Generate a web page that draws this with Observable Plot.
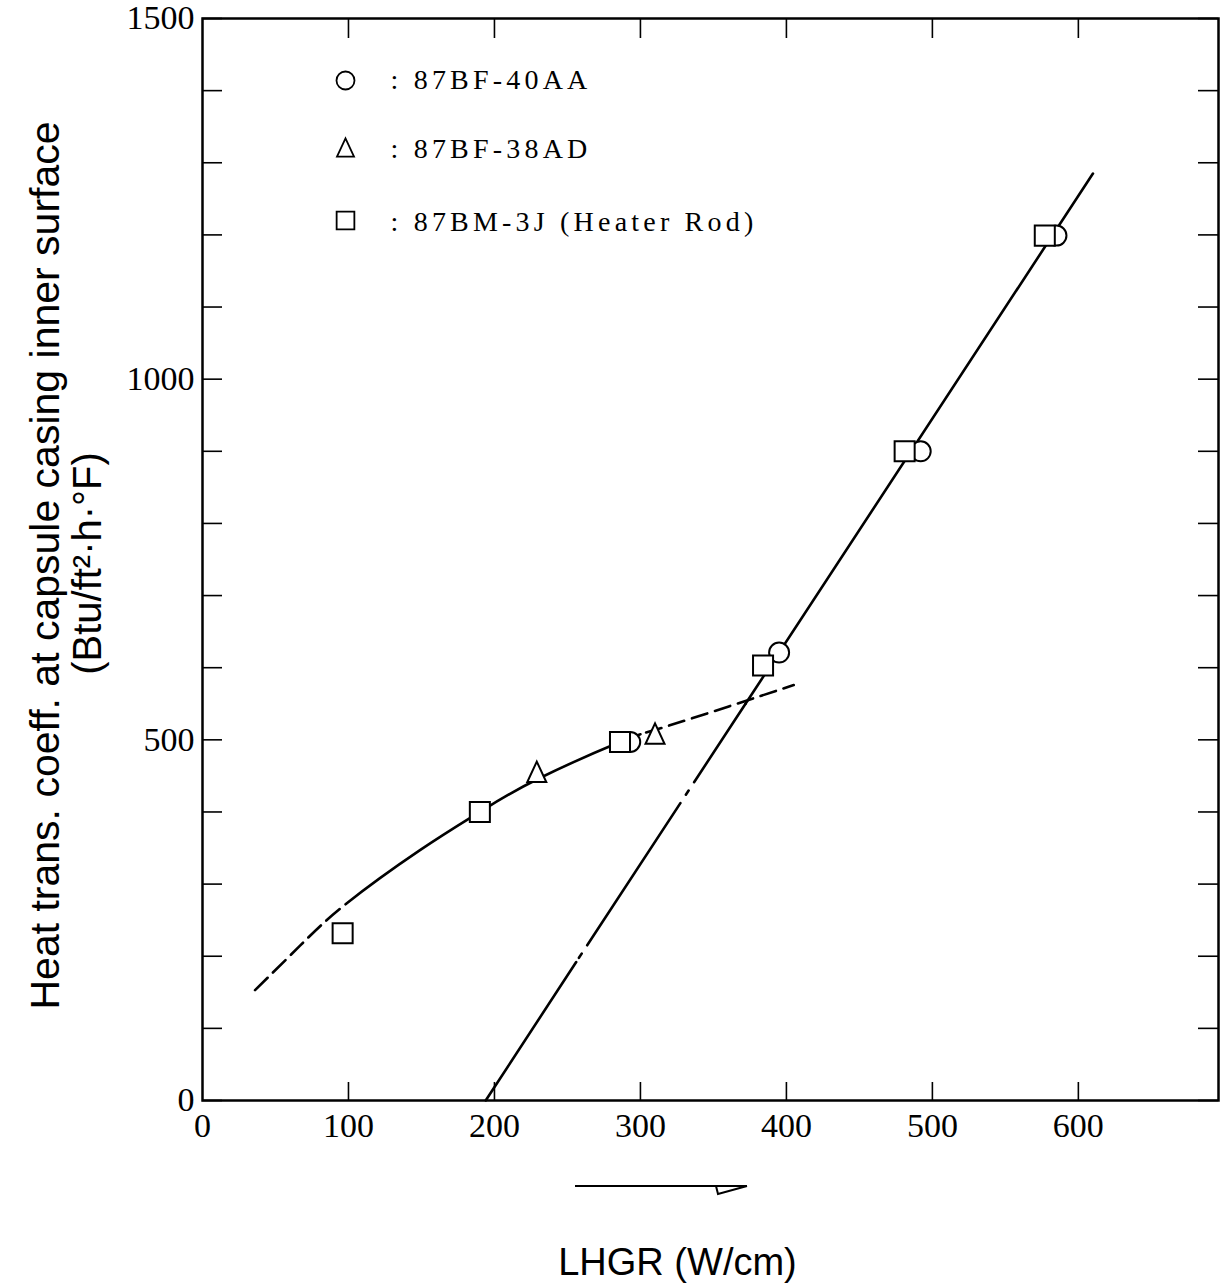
<!DOCTYPE html>
<html><head><meta charset="utf-8">
<script src="https://cdn.jsdelivr.net/npm/d3@7"></script>
<script src="https://cdn.jsdelivr.net/npm/@observablehq/plot@0.6"></script>
<style>
body{margin:0;background:#fff}
#chart{position:relative;width:1221px;height:1284px}
</style>
</head><body><div id="chart"></div>
<script>
// ---- data ----
const circleX = [293, 395, 492, 585];
const circleY = [497, 621, 900, 1199];
const squareX = [96, 190, 286, 384, 481, 577];
const squareY = [232, 400, 497, 603, 900, 1199];
const triangleX = [229, 310];
const triangleY = [454, 507];

// low-LHGR fit curve (dashed at both ends, solid in the measured range)
const lowCurveX = [36, 67, 98, 149, 190, 229, 286, 312, 360, 405];
const lowCurveY = [153, 215, 272, 347, 400, 445, 497, 515, 546, 576];
const lowSolidFrom = 98, lowSolidTo = 300;

// straight fit line (solid, dash-dot, solid)
const lineAX = [194, 256];
const lineAY = [0, 192];
const lineBX = [256, 372];
const lineBY = [192, 550];
const lineCX = [372, 610];
const lineCY = [550, 1285];

const xTicks = [0, 100, 200, 300, 400, 500, 600];
const xInnerTicks = [100, 200, 300, 400, 500, 600];
const yMinorTicks = [0, 100, 200, 300, 400, 500, 600, 700, 800, 900, 1000, 1100, 1200, 1300, 1400, 1500];
const yLabels = [0, 500, 1000, 1500];

const legendNames = [": 87BF-40AA", ": 87BF-38AD", ": 87BM-3J (Heater Rod)"];
const xTitle = "LHGR (W/cm)";
const yTitle1 = "Heat trans. coeff. at capsule casing inner surface";
const yTitle2 = "(Btu/ft²·h·°F)";

// ---- build tables ----
const pts = (xs, ys) => xs.map((x, i) => ({x, y: ys[i]}));
const circles = pts(circleX, circleY);
const squares = pts(squareX, squareY);
const triangles = pts(triangleX, triangleY);

const tallTriangle = {
  draw(ctx, size) {
    const r = Math.sqrt(size / Math.PI);
    ctx.moveTo(0, -1.2 * r);
    ctx.lineTo(r, 0.95 * r);
    ctx.lineTo(-r, 0.95 * r);
    ctx.closePath();
  }
};

const W = 1221, H = 1284, mL = 202, mR = 3, mT = 18, mB = 184;
const frameW = W - mL - mR, frameH = H - mT - mB;
const sans = "'Liberation Sans', Arial, Helvetica, sans-serif";
const serif = "'Liberation Serif', 'Times New Roman', serif";

const plot = Plot.plot({
  width: W, height: H,
  marginLeft: mL, marginRight: mR, marginTop: mT, marginBottom: mB,
  x: {domain: [0, 696], axis: null},
  y: {domain: [0, 1500], axis: null},
  style: {fontFamily: serif, background: "#fff", color: "#000", overflow: "visible"},
  marks: [
    // ticks (inward)
    Plot.ruleY(yMinorTicks, {insetRight: frameW - 20, stroke: "#000", strokeWidth: 1.6}),
    Plot.ruleY(yMinorTicks, {insetLeft: frameW - 20, stroke: "#000", strokeWidth: 1.6}),
    Plot.ruleX(xInnerTicks, {insetTop: frameH - 18, stroke: "#000", strokeWidth: 1.6}),
    Plot.ruleX(xInnerTicks, {insetBottom: frameH - 20, stroke: "#000", strokeWidth: 1.6}),
    Plot.frame({stroke: "#000", strokeWidth: 2.5}),

    // tick labels
    Plot.text(yLabels, {y: d => d, text: d => String(d), frameAnchor: "left", textAnchor: "end", lineAnchor: "middle", dx: -8, fontSize: 34, fill: "#000"}),
    Plot.text(xTicks, {x: d => d, text: d => String(d), frameAnchor: "bottom", textAnchor: "middle", lineAnchor: "middle", dy: 26, fontSize: 34, fill: "#000"}),

    // fit curves
    Plot.line(pts(lowCurveX, lowCurveY), {x: "x", y: "y", curve: "natural", stroke: "#000", strokeWidth: 2.6, className: "lowcurve"}),
    Plot.line(pts(lineAX, lineAY), {x: "x", y: "y", stroke: "#000", strokeWidth: 2.6}),
    Plot.line(pts(lineBX, lineBY), {x: "x", y: "y", stroke: "#000", strokeWidth: 2.6, strokeDasharray: "170,10,5,10", strokeDashoffset: 175}),
    Plot.line(pts(lineCX, lineCY), {x: "x", y: "y", stroke: "#000", strokeWidth: 2.6}),

    // data points
    Plot.dot(circles, {x: "x", y: "y", r: 10, symbol: "circle", stroke: "#000", fill: "#fff", strokeWidth: 2}),
    Plot.dot(squares, {x: "x", y: "y", r: 11.3, symbol: "square", stroke: "#000", fill: "#fff", strokeWidth: 2}),
    Plot.dot(triangles, {x: "x", y: "y", r: 9.5, symbol: tallTriangle, stroke: "#000", fill: "#fff", strokeWidth: 2}),

    // legend
    Plot.dot([0], {frameAnchor: "top-left", dx: 143, dy: 62, r: 9, symbol: "circle", stroke: "#000", fill: "#fff", strokeWidth: 1.8}),
    Plot.dot([0], {frameAnchor: "top-left", dx: 143, dy: 130, r: 8.5, symbol: tallTriangle, stroke: "#000", fill: "#fff", strokeWidth: 1.8}),
    Plot.dot([0], {frameAnchor: "top-left", dx: 143, dy: 202, r: 10, symbol: "square", stroke: "#000", fill: "#fff", strokeWidth: 1.8}),
    Plot.text([legendNames[0]], {frameAnchor: "top-left", dx: 188, dy: 62, textAnchor: "start", lineAnchor: "middle", fontSize: 28, fill: "#000"}),
    Plot.text([legendNames[1]], {frameAnchor: "top-left", dx: 188, dy: 131, textAnchor: "start", lineAnchor: "middle", fontSize: 28, fill: "#000"}),
    Plot.text([legendNames[2]], {frameAnchor: "top-left", dx: 188, dy: 204, textAnchor: "start", lineAnchor: "middle", fontSize: 28, fill: "#000"}),

    // axis titles
    Plot.text([xTitle], {frameAnchor: "bottom", textAnchor: "middle", lineAnchor: "middle", dx: -33, dy: 162, fontSize: 38, fontFamily: sans, fill: "#000"}),
    Plot.text([yTitle1], {frameAnchor: "left", textAnchor: "middle", lineAnchor: "middle", dx: -157, dy: 6, rotate: -90, fontSize: 41, fontFamily: sans, fill: "#000"}),
    Plot.text([yTitle2], {frameAnchor: "left", textAnchor: "middle", lineAnchor: "middle", dx: -114, dy: 4, rotate: -90, fontSize: 40, fontFamily: sans, fill: "#000"})
  ]
});

document.getElementById("chart").appendChild(plot);

const svg = d3.select(plot);

// letter spacing for legend labels
svg.selectAll("text").filter(function () {
  return this.textContent.startsWith(":");
}).style("letter-spacing", "4.2px");

// dashed ends / solid middle on the low curve (one smooth path)
(function () {
  const path = svg.select(".lowcurve path").node();
  if (!path) return;
  const xs = d3.scaleLinear().domain([0, 696]).range([mL, W - mR]);
  const L = path.getTotalLength();
  const lenAt = px => {
    let lo = 0, hi = L;
    for (let i = 0; i < 40; i++) {
      const mid = (lo + hi) / 2;
      if (path.getPointAtLength(mid).x < px) lo = mid; else hi = mid;
    }
    return lo;
  };
  const l1 = lenAt(xs(lowSolidFrom)), l2 = lenAt(xs(lowSolidTo));
  const arr = [];
  // first dashed part: whole number of dash periods ending with a gap
  const n1 = Math.max(1, Math.round(l1 / 26));
  const p1 = l1 / n1;
  for (let i = 0; i < n1; i++) arr.push(p1 * 0.7, p1 * 0.3);
  arr.push(l2 - l1, 6);           // solid part, then a short gap
  let pos = l2 + 6;
  const d2 = 16, g2 = 8;
  while (pos < L) { arr.push(d2, g2); pos += d2 + g2; }
  path.setAttribute("stroke-dasharray", arr.join(","));
})();

// decorative direction arrow under the x axis
svg.append("line").attr("x1", 575).attr("y1", 1186).attr("x2", 747).attr("y2", 1186)
  .attr("stroke", "#000").attr("stroke-width", 2);
svg.append("path").attr("d", "M716,1186 L718,1194 L747,1186")
  .attr("fill", "none").attr("stroke", "#000").attr("stroke-width", 2);
</script>
</body></html>
